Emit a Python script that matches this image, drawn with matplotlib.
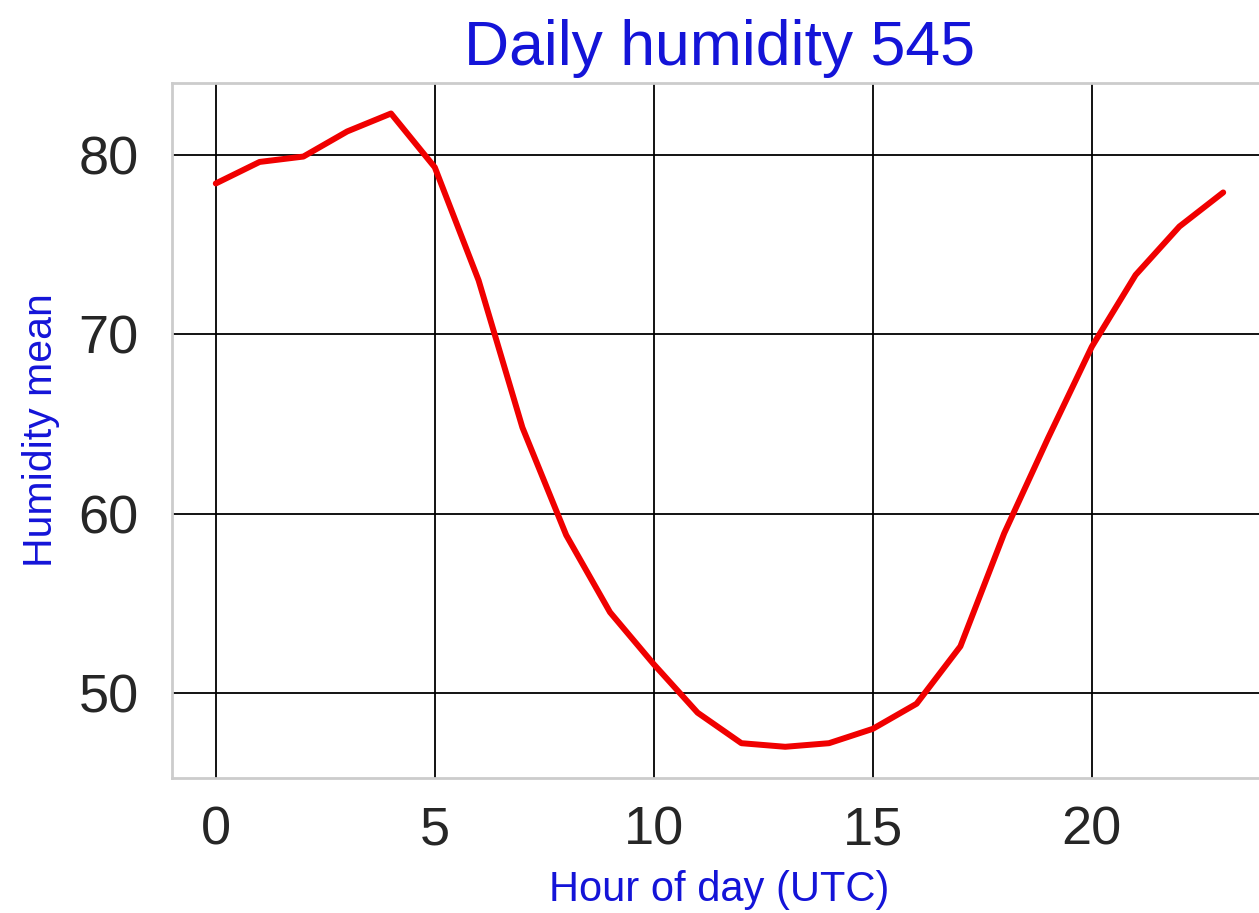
import matplotlib
matplotlib.use("Agg")
import matplotlib.pyplot as plt

hours = list(range(24))
humidity = [78.4, 79.6, 79.9, 81.3, 82.3, 79.3, 73.0, 64.8, 58.8, 54.5,
            51.6, 48.9, 47.2, 47.0, 47.2, 48.0, 49.4, 52.6, 58.9, 64.2,
            69.3, 73.3, 76.0, 77.9]
xticks = [0, 5, 10, 15, 20]
yticks = [50, 60, 70, 80]

title_text = "Daily humidity 545"
xlabel_text = "Hour of day (UTC)"
ylabel_text = "Humidity mean"

plt.rcParams['font.family'] = ['Liberation Sans', 'DejaVu Sans']

fig = plt.figure(figsize=(12.59, 9.13), dpi=100)
ax = fig.add_axes([172/1259, 135/913, 1095/1259, 695/913])

ax.plot(hours, humidity, color='#f00000', linewidth=4.3, solid_joinstyle='round',
        solid_capstyle='round', zorder=3)

ax.set_xlim(-1, 24)
ax.set_ylim(45.26, 84.0)
ax.set_xticks(xticks)
ax.set_yticks(yticks)
ax.grid(True, color='black', linewidth=1.3, zorder=1)
ax.set_axisbelow(True)

for side in ['left', 'bottom', 'top', 'right']:
    ax.spines[side].set_color('#cccccc')
    ax.spines[side].set_linewidth(2)

ax.tick_params(axis='both', length=0, labelsize=39, labelcolor='#262626')
ax.tick_params(axis='x', pad=20)
ax.tick_params(axis='y', pad=24)

ax.set_title(title_text, fontsize=45, color='#1414d8', pad=13)
ax.set_xlabel(xlabel_text, fontsize=30, color='#1414d8', labelpad=10)
ax.set_ylabel(ylabel_text, fontsize=29.5, color='#1414d8', labelpad=13)

fig.savefig("out.png", dpi=100, facecolor='white')
